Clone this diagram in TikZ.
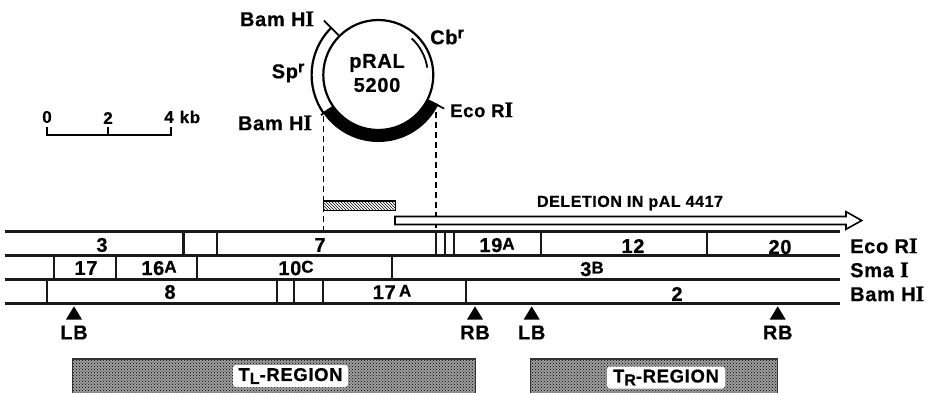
\documentclass[tikz,border=0pt]{standalone}
\usepackage{fontspec}
\usetikzlibrary{patterns}
\setmainfont{Liberation Sans}[LetterSpace=3.5,BoldFeatures={FakeBold=0.6}]
\newfontfamily\serifI{Liberation Serif}[BoldFont=Liberation Serif Bold,BoldFeatures={FakeBold=0.6}]
\newcommand{\SI}{{\serifI\bfseries\fontsize{22}{22}\selectfont I}}
\newcommand{\up}[1]{\raisebox{2.5pt}{\fontsize{17}{17}\selectfont #1}}
\newcommand{\supr}{\raisebox{6pt}{\fontsize{16}{16}\selectfont r}}
\definecolor{stip}{gray}{0.62}
\tikzset{
  lab/.style={font=\fontsize{20}{20}\selectfont\bfseries,inner sep=0pt},
  sml/.style={font=\fontsize{17}{17}\selectfont\bfseries,inner sep=0pt},
  small2/.style={font=\fontsize{16}{17}\selectfont\bfseries,inner sep=0pt},
  rail/.style={line width=2.5pt,black!90},
  cut/.style={line width=2.3pt,black!90},
  thin1/.style={line width=1.8pt},
  mark1/.style={fill=black,draw=none},
  region/.style={fill=stip,draw=none},
  regbg/.style={fill=white,rounded corners=3pt,inner sep=0pt,font=\fontsize{18.5}{18}\selectfont\bfseries,minimum height=22pt,anchor=center},
}
\begin{document}
\begin{tikzpicture}[x=1pt,y=-1pt]
\useasboundingbox (0,0) rectangle (933,392);
\clip (0,0) rectangle (933,392);

% scale bar
\coordinate (s0) at (47.3,127.3); \coordinate (s0b) at (47.3,135);
\coordinate (s1) at (107.7,127.3); \coordinate (s1b) at (107.7,135);
\coordinate (s2) at (170.7,127.3); \coordinate (s2b) at (170.7,135);
\draw[thin1] (s0) -- (s0b) -- (s2b) -- (s2);
\draw[thin1] (s1) -- (s1b);
\node[sml] (n0) at (47,117) {0};
\node[sml] (n2) at (108,118) {2};
\node[sml] (n4) at (169,117) {4};
\node[sml] (nkb) at (190,117) {kb};

% plasmid
\begin{scope}[shift={(378.3,75)},x=1pt,y=1pt]
  \fill[black] (-26:55pt) arc[start angle=-26,end angle=-146,radius=55pt]
     -- (-146:67pt) arc[start angle=-146,end angle=-26,radius=67pt] -- cycle;
  \draw[line width=2.2pt] (0,0) circle[radius=55pt];
  \draw[line width=2.2pt] (135:66.7pt) arc[start angle=135,end angle=215,radius=66.7pt];
  \draw[line width=1.8pt] (47.7:49.5pt) arc[start angle=47.7,end angle=8.6,radius=49.5pt];
  \draw[line width=1.7pt] (135:55pt) -- (135:77pt);
  \draw[line width=1.7pt] (-27:55pt) -- (-27:74pt);
  \draw[line width=1.7pt] (215:60pt) -- (215:70pt);
\end{scope}
\node[lab] (pral) at (377,63) {pRAL};
\node[lab] (p52) at (377,85) {5200};
\node[lab] (b1) at (277,19) {Bam H\SI};
\node[lab] (b2) at (275,123) {Bam H\SI};
\node[lab] (spr) at (288,73) {Sp\supr};
\node[lab] (cbr) at (447,37) {Cb\supr};
\node[lab,anchor=west,font=\fontsize{18.5}{18}\selectfont\bfseries] (ec) at (450,110) {Eco R\SI};

% dashed guides
\coordinate (d1a) at (323.4,116); \coordinate (d1b) at (323.4,231);
\coordinate (d2a) at (435.7,112); \coordinate (d2b) at (435.7,231);
\draw[line width=1.8pt,dash pattern=on 6pt off 4pt] (d1a) -- (d1b);
\draw[line width=1.8pt,dash pattern=on 6pt off 4pt] (d2a) -- (d2b);

% hatched bar
\fill[white] (323.5,201) rectangle (395.7,210.7);
\draw[line width=1.4pt,pattern={north west lines},pattern color=black] (323.5,201) rectangle (395.7,210.7);

% deletion arrow
\draw[line width=1.6pt,fill=white] (395,224.5) -- (395,216.5) -- (846,216.5) -- (846,211.7) -- (861.7,220.5) -- (846,229.3) -- (846,224.5) -- cycle;
\node[small2] (del) at (630,203) {DELETION IN pAL 4417};

% rails
\coordinate (r1a) at (5,231.7); \coordinate (r1b) at (840,231.7);
\coordinate (r2a) at (5,255.7); \coordinate (r2b) at (840,255.7);
\coordinate (r3a) at (5,279.3); \coordinate (r3b) at (840,279.3);
\coordinate (r4a) at (5,303.3); \coordinate (r4b) at (840,303.3);
\foreach \a/\b in {r1a/r1b,r2a/r2b,r3a/r3b,r4a/r4b} \draw[rail] (\a) -- (\b);
\foreach \x in {183.5,216.7,436,445,454,541,706.7} \draw[cut] (\x,231.7) -- (\x,255.7);
\foreach \x in {54,116,196.7,391.7} \draw[cut] (\x,255.7) -- (\x,279.3);
\foreach \x in {46.7,277,293.7,323,465.7} \draw[cut] (\x,279.3) -- (\x,303.3);

% fragment labels
\node[lab] (f3) at (102,245) {3};
\node[lab] (f7) at (320,245) {7};
\node[lab] (f19) at (497,245) {19\up{A}};
\node[lab] (f12) at (633,246) {12};
\node[lab] (f20) at (780,247) {20};
\node[lab] (f17) at (86,268) {17};
\node[lab] (f16) at (159,268) {16\up{A}};
\node[lab] (f10) at (296,268) {10\up{C}};
\node[lab] (f3b) at (592,269) {3\up{B}};
\node[lab] (f8) at (170,292) {8};
\node[lab] (f17a) at (392,292) {17\,\up{A}};
\node[lab] (f2) at (677,294) {2};

% enzyme labels
\node[lab,anchor=west] (eR) at (850,246) {Eco R\SI};
\node[lab,anchor=west] (sR) at (850,270) {Sma \SI};
\node[lab,anchor=west] (bR) at (850,294) {Bam H\SI};

% borders
\foreach \x/\n in {74/LB,475/RB,531.7/LB,777.7/RB}{
  \fill[mark1] (\x,306.3) -- (\x+8,319.5) -- (\x-8,319.5) -- cycle;
  \node[lab] at (\x,332.5) {\n};
}

% regions
\fill[region] (72.7,359) rectangle (475.7,394);
\fill[pattern=crosshatch dots,pattern color=black] (72.7,359) rectangle (475.7,394);
\draw[line width=1.4pt,black!80] (72.7,394) -- (72.7,359) -- (475.7,359) -- (475.7,394);
\fill[region] (530.7,359) rectangle (777.7,394);
\fill[pattern=crosshatch dots,pattern color=black] (530.7,359) rectangle (777.7,394);
\draw[line width=1.4pt,black!80] (530.7,394) -- (530.7,359) -- (777.7,359) -- (777.7,394);
\node[regbg,minimum width=115pt] (tl) at (290.5,376) {T\raisebox{-3pt}{\fontsize{16}{16}\selectfont L}-REGION};
\node[regbg,minimum width=118pt] (tr) at (666,377.5) {T\raisebox{-3pt}{\fontsize{16}{16}\selectfont R}-REGION};
\end{tikzpicture}
\end{document}
